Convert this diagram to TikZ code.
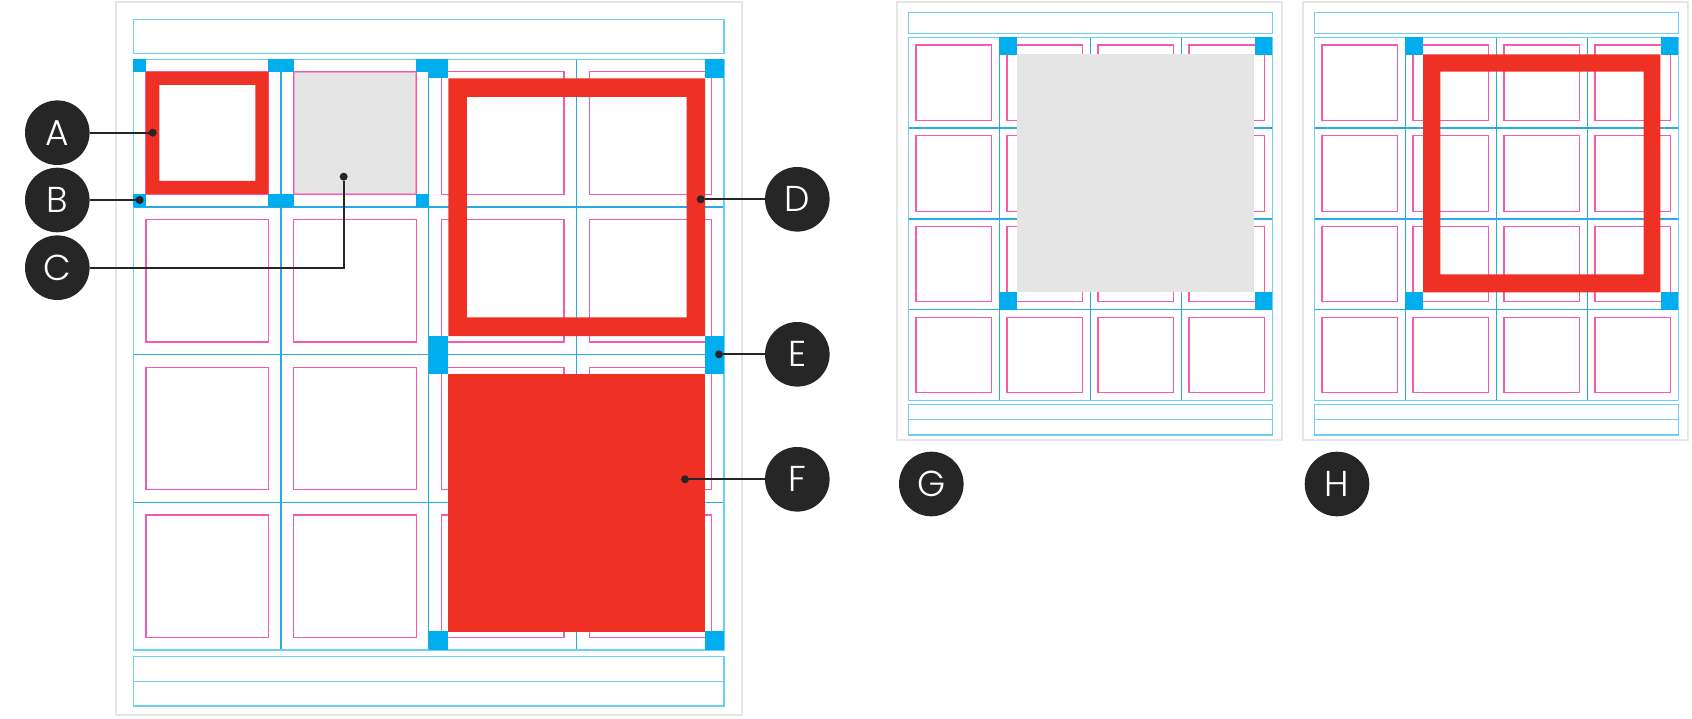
\documentclass[tikz,border=0pt]{standalone}
\usepackage{fontspec}
\setmainfont{Poppins}[UprightFont=* Light]
\usepackage[dvipsnames]{xcolor}
\usepackage{tikz}

\definecolor{gridblue}{HTML}{29ABE2}
\definecolor{lineblue}{HTML}{6DCFF6}
\definecolor{cornerblue}{HTML}{00AEEF}
\definecolor{modpink}{HTML}{F45BAE}
\definecolor{spanred}{HTML}{EE3124}
\definecolor{blockgray}{HTML}{E5E5E5}
\definecolor{pagegray}{HTML}{E6E6E6}
\definecolor{labeldark}{HTML}{262626}

\begin{document}
\begin{tikzpicture}[x=1pt, y=-1pt,
		pageframe/.style={draw=pagegray, line width=2pt},
		gridframe/.style={draw=lineblue, line width=1.5pt},
		gridline/.style={draw=gridblue, line width=1.5pt},
		modulebox/.style={draw=modpink, line width=1.2pt},
		cornerbox/.style={fill=cornerblue},
		letter/.style={circle, fill=labeldark, text=white, minimum size=64.6pt, inner sep=0pt, font=\fontsize{36}{36}\selectfont},
		endpt/.style={circle, fill=labeldark, minimum size=8pt, inner sep=0pt},
		leader/.style={draw=labeldark, line width=2pt}]
		\useasboundingbox (0,0) rectangle (1692,719);
		% main page
		\draw[pageframe] (115.7,2.3) rectangle (741.7,715);
		\draw[gridframe] (133.3,19.3) rectangle (724,53.3);
		% modules
		\foreach \i in {0,...,3}
		\foreach \j in {0,...,3}
		\draw[modulebox] ({146+147.7*\i},{71.8+147.7*\j}) rectangle ++(122.5,122.5);
		% columns and rows
		\foreach \i in {1,2,3}
		\draw[gridline] ({133.3+147.7*\i},59.3) -- ++(0,590.7);
		\foreach \j in {1,2,3}
		\draw[gridline] (133.3,{59.3+147.7*\j}) -- ++(590.7,0);
		\draw[gridframe] (133.3,59.3) rectangle (724,650);
		% footer
		\draw[gridframe] (133.3,656.7) rectangle (724,706);
		\draw[gridframe] (133.3,681.7) -- (724,681.7);
		% empty module
		\fill[blockgray] (294.3,72) rectangle (416,194);
		\draw[modulebox, draw opacity=0.5] (294.3,72) rectangle (416,194);
		% single module
		\fill[spanred, even odd rule] (146,72) rectangle (268.3,194) (159.3,85) rectangle (255.3,181);
		% spanning modules
		\fill[spanred, even odd rule] (448.3,78.3) rectangle (705,336) (466.8,96.8) rectangle (686.5,317.5);
		\fill[spanred] (448.3,374) rectangle (705,631.7);
		% corners
		\foreach \p in {(133.3,59.3),(268.3,59.3),(133.3,194),(268.3,194),(281,59.3),(416,59.3),(281,194),(416,194)}
		\fill[cornerbox] \p rectangle ++(12.7,12.7);
		\foreach \p in {(429.3,59.3),(705,59.3),(429.3,336),(705,336),(429.3,355),(705,355),(429.3,631),(705,631)}
		\fill[cornerbox] \p rectangle ++(19,19);

		% small pages
		\foreach \gx in {908.3,1314.3} {
			\draw[pageframe] ({\gx-11},2.3) rectangle ({\gx+374},440.3);
			\draw[gridframe] (\gx,12.7) rectangle ++(364,20.6);
			\foreach \i in {0,...,3}
			\foreach \j in {0,...,3}
			\draw[modulebox] ({\gx+7.7+91*\i},{45+90.75*\j}) rectangle ++(75.6,75.4);
			\foreach \i in {1,2,3}
			\draw[gridline] ({\gx+91*\i},37.3) -- ++(0,363);
			\foreach \j in {1,2,3}
			\draw[gridline] (\gx,{37.3+90.75*\j}) -- ++(364,0);
			\draw[gridframe] (\gx,37.3) rectangle ++(364,363);
			\draw[gridframe] (\gx,404.3) rectangle ++(364,30.7);
			\draw[gridframe] (\gx,419.3) -- ++(364,0);
		}
		% merged block
		\fill[blockgray] (1017.3,54.3) rectangle (1254.3,292.3);
		% merged frame
		\fill[spanred, even odd rule] (1423,54.3) rectangle (1660.3,292.3) (1440.3,71.7) rectangle (1643.7,274.5);
		% small corners
		\foreach \gx in {908.3,1314.3}
		\foreach \p in {(\gx+91,37.3),(\gx+346.7,37.3),(\gx+91,292.4),(\gx+346.7,292.4)}
		\fill[cornerbox] \p rectangle ++(17.3,17.3);

		% labels
		\node[letter] (A) at (57.3,132.7) {A};
		\node[letter] (B) at (57.3,200) {B};
		\node[letter] (C) at (57.3,267.7) {C};
		\node[letter] (D) at (797.3,199.3) {D};
		\node[letter] (E) at (797.3,354.3) {E};
		\node[letter] (F) at (797.3,479.3) {F};
		\node[letter] (G) at (931.3,484) {G};
		\node[letter] (H) at (1337,484) {H};
		\node[endpt] (a) at (152.7,132.7) {};
		\node[endpt] (b) at (139.7,200) {};
		\node[endpt] (c) at (343.7,176.7) {};
		\node[endpt] (d) at (700.7,199.3) {};
		\node[endpt] (e) at (719,354.3) {};
		\node[endpt] (f) at (685,479.3) {};
		\draw[leader] (A) -- (a);
		\draw[leader] (B) -- (b);
		\draw[leader] (C) -| (c);
		\draw[leader] (D) -- (d);
		\draw[leader] (E) -- (e);
		\draw[leader] (F) -- (f);
	\end{tikzpicture}
\end{document}
